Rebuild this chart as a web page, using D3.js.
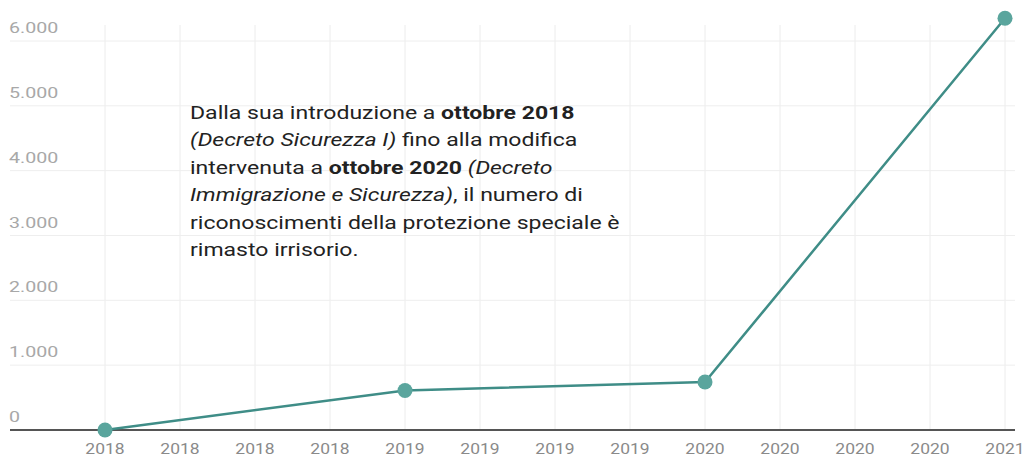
<!DOCTYPE html>
<html><head><meta charset="utf-8">
<script src="https://cdn.jsdelivr.net/npm/d3@7"></script>
<style>
html,body{margin:0;padding:0;background:#fff;}
svg{display:block;font-family:Roboto, "Noto Sans", sans-serif;}
</style></head>
<body>
<svg id="chart" width="1029" height="459"></svg>
<script>
const categories = ["2018","2018","2018","2018","2019","2019","2019","2019","2020","2020","2020","2020","2021"];
const values = [0, null, null, null, 610, null, null, null, 740, null, null, null, 6350];
const yTicks = [0,1000,2000,3000,4000,5000,6000];
const yTickLabels = ["0","1.000","2.000","3.000","4.000","5.000","6.000"];
const noteLines = [
  [["Dalla sua introduzione a ","n"],["ottobre 2018","b"]],
  [["(Decreto Sicurezza I)","i"],[" fino alla modifica","n"]],
  [["intervenuta a ","n"],["ottobre 2020","b"],[" (Decreto","i"]],
  [["Immigrazione e Sicurezza)","i"],[", il numero di","n"]],
  [["riconoscimenti della protezione speciale è","n"]],
  [["rimasto irrisorio.","n"]]
];

const svg = d3.select("#chart");
const idx = categories.map((d,i)=>i);
const x = d3.scalePoint().domain(idx).range([105,1005]);
const y = d3.scaleLinear().domain([0,6000]).range([430,41]);

// vertical grid
svg.append("g").selectAll("line").data(idx).join("line")
  .attr("x1",d=>x(d)).attr("x2",d=>x(d)).attr("y1",25).attr("y2",430)
  .attr("stroke","#ececec").attr("stroke-width",1);

// horizontal grid
svg.append("g").selectAll("line").data(yTicks.filter(d=>d>0)).join("line")
  .attr("x1",10).attr("x2",1015).attr("y1",d=>y(d)).attr("y2",d=>y(d))
  .attr("stroke","#eeeeee").attr("stroke-width",1);

// y labels
svg.append("g").selectAll("text").data(yTicks).join("text")
  .attr("transform",d=>`translate(9,${y(d)-8}) scale(1.4,1)`)
  .attr("font-size",14).attr("fill","#a8a8a8")
  .text((d,i)=>yTickLabels[i]);

// baseline
svg.append("line").attr("x1",10).attr("x2",1015).attr("y1",y(0)).attr("y2",y(0))
  .attr("stroke","#555").attr("stroke-width",2);

// x labels
svg.append("g").selectAll("text").data(idx).join("text")
  .attr("transform",d=>`translate(${x(d)},454) scale(1.25,1)`)
  .attr("text-anchor","middle")
  .attr("font-size",14).attr("fill","#8a8a8a")
  .text(d=>categories[d]);

// line
const pts = idx.filter(i=>values[i]!==null).map(i=>({i, v:values[i]}));
svg.append("path").datum(pts)
  .attr("fill","none").attr("stroke","#3f8d87").attr("stroke-width",2.5)
  .attr("d", d3.line().x(d=>x(d.i)).y(d=>y(d.v)));
svg.append("g").selectAll("circle").data(pts).join("circle")
  .attr("cx",d=>x(d.i)).attr("cy",d=>y(d.v)).attr("r",7.5)
  .attr("fill","#5aa59d");

// annotation
const note = svg.append("text").attr("transform","translate(190,0) scale(1.28,1)")
  .attr("font-size",18).attr("fill","#222");
noteLines.forEach((line,li)=>{
  line.forEach((seg,si)=>{
    const t = note.append("tspan").text(seg[0]);
    if(si===0) t.attr("x",0).attr("y",119 + li*27.5);
    if(seg[1]==="b") t.attr("font-weight","bold");
    if(seg[1]==="i") t.attr("font-style","italic");
  });
});
</script>
</body></html>
